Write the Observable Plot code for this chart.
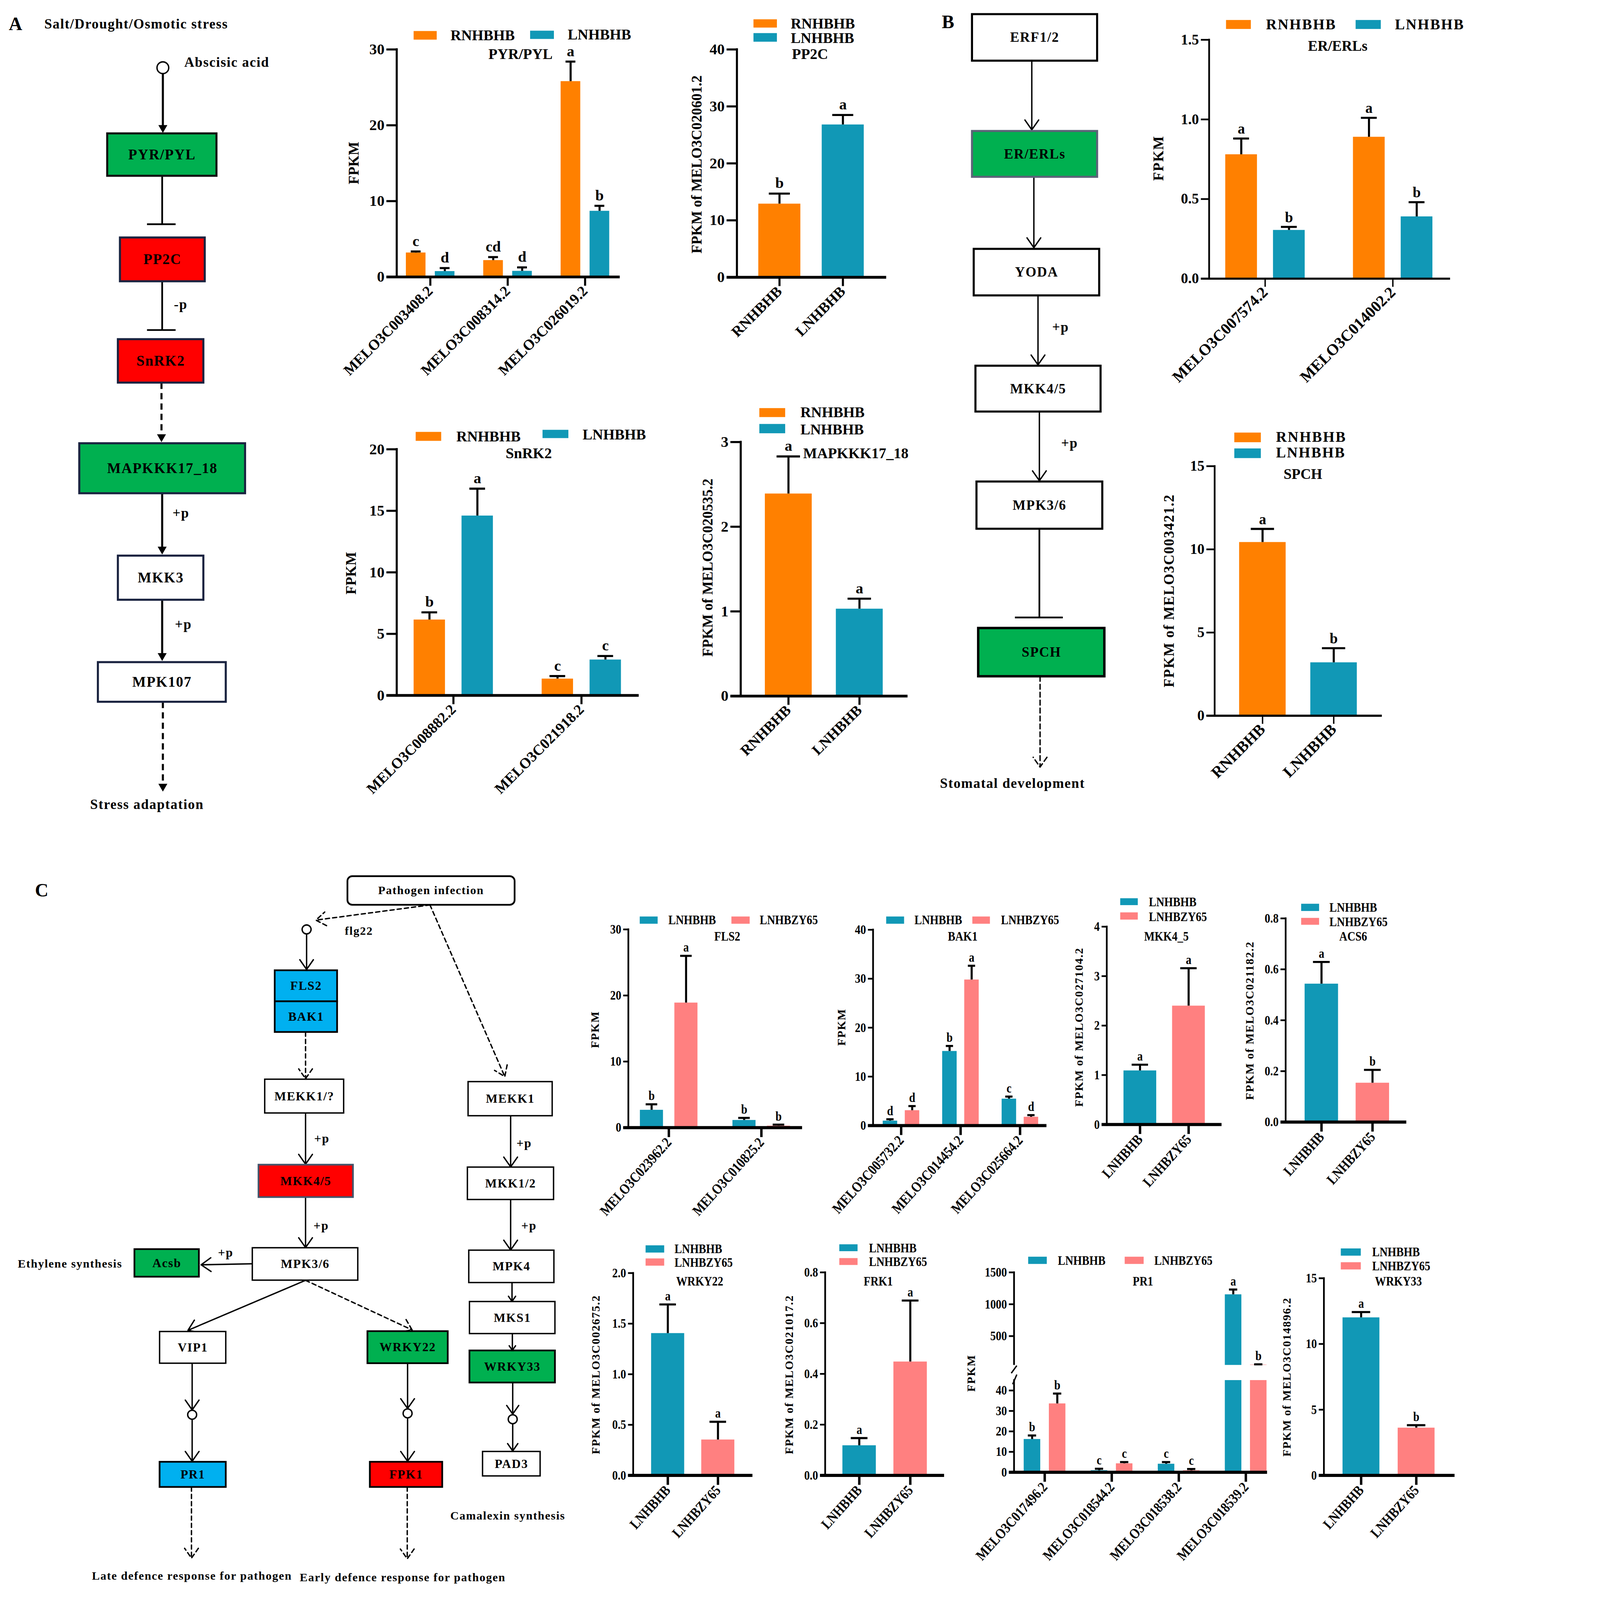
<!DOCTYPE html>
<html><head><meta charset="utf-8">
<script src="https://cdn.jsdelivr.net/npm/d3@7"></script>
<script src="https://cdn.jsdelivr.net/npm/@observablehq/plot@0.6"></script>
<style>
html,body{margin:0;padding:0;background:#fff;overflow:hidden;}
#page{position:absolute;left:0;top:0;width:4266px;height:4642px;overflow:hidden;background:#fff;font-family:'Liberation Serif','Times New Roman',serif;font-weight:bold;color:#000;transform-origin:0 0;}
.abs{position:absolute;white-space:nowrap;line-height:1;}
</style></head>
<body><div id="page"></div>
<script>
// ================= DATA =================
// Panel A
const pyrGenes = ["MELO3C003408.2", "MELO3C008314.2", "MELO3C026019.2"];
const pyrRN = [3.2, 2.2, 25.8];
const pyrRNErr = [0.16, 0.42, 2.6];
const pyrRNSig = ["c", "cd", "a"];
const pyrLN = [0.75, 0.78, 8.7];
const pyrLNErr = [0.42, 0.48, 0.68];
const pyrLNSig = ["d", "d", "b"];

const linesRL = ["RNHBHB", "LNHBHB"];
const pp2cVal = [12.9, 26.8];
const pp2cErr = [1.8, 1.7];
const pp2cSig = ["b", "a"];

const snrkGenes = ["MELO3C008882.2", "MELO3C021918.2"];
const snrkRN = [6.15, 1.35];
const snrkRNErr = [0.6, 0.22];
const snrkRNSig = ["b", "c"];
const snrkLN = [14.6, 2.9];
const snrkLNErr = [2.2, 0.3];
const snrkLNSig = ["a", "c"];

const mapVal = [2.39, 1.03];
const mapErr = [0.44, 0.12];
const mapSig = ["a", "a"];

// Panel B
const erGenes = ["MELO3C007574.2", "MELO3C014002.2"];
const erRN = [0.78, 0.89];
const erRNErr = [0.10, 0.12];
const erRNSig = ["a", "a"];
const erLN = [0.305, 0.39];
const erLNErr = [0.02, 0.09];
const erLNSig = ["b", "b"];

const spchVal = [10.43, 3.2];
const spchErr = [0.8, 0.86];
const spchSig = ["a", "b"];

// Panel C
const linesLZ = ["LNHBHB", "LNHBZY65"];
const fls2Genes = ["MELO3C023962.2", "MELO3C010825.2"];
const fls2LN = [2.67, 1.13];
const fls2LNErr = [0.86, 0.34];
const fls2LNSig = ["b", "b"];
const fls2ZY = [18.9, 0.27];
const fls2ZYErr = [7.1, 0.18];
const fls2ZYSig = ["a", "b"];

const bak1Genes = ["MELO3C005732.2", "MELO3C014454.2", "MELO3C025664.2"];
const bak1LN = [0.97, 15.2, 5.46];
const bak1LNErr = [0.32, 1.06, 0.46];
const bak1LNSig = ["d", "b", "c"];
const bak1ZY = [3.1, 29.8, 1.76];
const bak1ZYErr = [0.88, 2.85, 0.37];
const bak1ZYSig = ["d", "a", "d"];

const mkkVal = [1.09, 2.40];
const mkkErr = [0.12, 0.76];
const mkkSig = ["a", "a"];

const acs6Val = [0.543, 0.154];
const acs6Err = [0.086, 0.051];
const acs6Sig = ["a", "b"];

const wrky22Val = [1.405, 0.353];
const wrky22Err = [0.285, 0.177];
const wrky22Sig = ["a", "a"];

const frk1Val = [0.118, 0.448];
const frk1Err = [0.029, 0.241];
const frk1Sig = ["a", "a"];

const pr1Genes = ["MELO3C017496.2", "MELO3C018544.2", "MELO3C018538.2", "MELO3C018539.2"];
const pr1LN = [16.2, 0.93, 4.1, 1153];
const pr1LNErr = [1.8, 0.8, 0.9, 78];
const pr1LNSig = ["b", "c", "c", "a"];
const pr1ZY = [33.6, 4.3, 0.9, 50];
const pr1ZYErr = [4.9, 0.7, 0.7, 7];
const pr1ZYSig = ["b", "c", "c", "b"];
const pr1Break = 45;

const wrky33Val = [12.01, 3.62];
const wrky33Err = [0.42, 0.2];
const wrky33Sig = ["a", "b"];

// ================= STYLE =================
const ORANGE = "#ff8000", TEAL = "#1198b6", PINK = "#ff8080";
const GREEN = "#00b050", RED = "#ff0000", BLUE = "#00b0f0";
const SERIF = "'Liberation Serif','Times New Roman',serif";
const page = document.getElementById("page");
const NS = "http://www.w3.org/2000/svg";

function fitPage() {
  const vw = document.documentElement.clientWidth || window.innerWidth;
  const vh = document.documentElement.clientHeight || window.innerHeight;
  const s = Math.min(vw / 4266, vh / 4642);
  page.style.transform = `scale(${s})`;
}
fitPage();
window.addEventListener("resize", fitPage);

function addText(text, x, y, o = {}) {
  const d = document.createElement("div");
  d.className = "abs";
  d.textContent = text;
  d.style.fontSize = (o.size || 40) + "px";
  d.style.letterSpacing = (o.spacing || 0) + "px";
  d.style.left = x + "px";
  d.style.top = y + "px";
  if (o.italic) d.style.fontStyle = "italic";
  const tx = o.anchor === "start" ? "0" : o.anchor === "end" ? "-100%" : "-50%";
  d.style.transformOrigin = o.anchor === "start" ? "0 50%" : o.anchor === "end" ? "100% 50%" : "50% 50%";
  d.style.transform = `translate(${tx},-50%)` + (o.rotate ? ` rotate(${o.rotate}deg)` : "") + (o.sx ? ` scaleX(${o.sx})` : "");
  page.appendChild(d);
}
function addSwatch(color, s) {
  const d = document.createElement("div");
  d.className = "abs";
  d.style.background = color;
  d.style.left = s[0] + "px"; d.style.top = s[2] + "px";
  d.style.width = (s[1] - s[0]) + "px"; d.style.height = (s[3] - s[2]) + "px";
  page.appendChild(d);
}
function svgLine(svg, x1, y1, x2, y2, w) {
  const l = document.createElementNS(NS, "line");
  l.setAttribute("x1", x1); l.setAttribute("y1", y1);
  l.setAttribute("x2", x2); l.setAttribute("y2", y2);
  l.setAttribute("stroke", "#000"); l.setAttribute("stroke-width", w);
  svg.appendChild(l);
}
function condense(svg, k) {
  svg.querySelectorAll("text").forEach(t => {
    const x = +t.getAttribute("x") || 0, y = +t.getAttribute("y") || 0;
    const tr = t.getAttribute("transform") || "";
    t.setAttribute("transform", `${tr} translate(${x},${y}) scale(${k},1) translate(${-x},${-y})`);
  });
}

const SA = {tickFont: 44, xFont: 43, sigFont: 44, ytick: 30, xtick: 26, yw: 6, xw: 8, ew: 6, rotate: -45, sigGap: 16,
  legFont: 43, legSp: 0, titleFont: 43, ylabFont: 42, ylabSp: 0, k: 0};
const SB = {tickFont: 42, xFont: 46, sigFont: 42, ytick: 24, xtick: 24, yw: 5, xw: 6, ew: 6, rotate: -45, sigGap: 14,
  legFont: 43, legSp: 3, titleFont: 42, ylabFont: 42, ylabSp: 2, k: 0};
const SC = {tickFont: 38, xFont: 42, sigFont: 38, ytick: 15, xtick: 28, yw: 5, xw: 9, ew: 6, rotate: -48, sigGap: 12,
  legFont: 38, legSp: 0, titleFont: 38, ylabFont: 34, ylabSp: 2, k: 0.85};

function pairSeries(vals, errs, sigs, colors) {
  return vals.map((v, k) => ({color: colors[k], values: [v], errs: [errs[k]], sig: [sigs[k]]}));
}

function chart(c) {
  const st = c.st;
  const ml = 170, mr = 40, mt = 110, mb = 560;
  const ymin = c.ymin ?? 0;
  const L = c.x0 - ml, T = c.yTop - mt;
  const W = c.x1 - c.x0 + ml + mr, H = c.yBot - c.yTop + mt + mb;
  const n = c.cats.length, S = (c.cN - c.c0) / (n - 1);
  const marks = [];
  c.series.forEach((s, k) => {
    const rows = s.values.map((v, i) => ({cat: c.grouped ? c.cats[i] : c.cats[k], value: v, err: s.errs[i], sig: s.sig[i]}));
    const dx = c.grouped ? (k - 0.5) * c.bs : 0;
    const shown = rows.filter(d => d.value > ymin);
    const whole = shown.filter(d => d.value + d.err <= c.ymax);
    const inset = c.bw * 0.25;
    marks.push(Plot.barY(shown, {x: "cat", y1: ymin, y2: d => Math.min(d.value, c.ymax), fill: s.color, dx}));
    marks.push(Plot.ruleX(whole, {x: "cat", y1: "value", y2: d => d.value + d.err, dx, strokeWidth: st.ew, stroke: "#000"}));
    marks.push(Plot.tickY(whole, {x: "cat", y: d => d.value + d.err, dx, insetLeft: inset, insetRight: inset, strokeWidth: st.ew, stroke: "#000"}));
    marks.push(Plot.text(whole, {x: "cat", y: d => d.value + d.err, text: "sig", dx, dy: -st.sigGap, lineAnchor: "bottom", fontSize: st.sigFont, fill: "#000"}));
  });
  if (!c.noX) marks.push(Plot.ruleY([ymin], {strokeWidth: st.xw, stroke: "#000", insetLeft: -st.ytick}));
  marks.push(Plot.axisY({ticks: c.ticks, tickFormat: c.fmt || "d", tickSize: st.ytick, tickPadding: 6, fontSize: st.tickFont, strokeWidth: st.yw, label: null}));
  if (!c.noX) marks.push(Plot.axisX({tickSize: st.xtick, tickPadding: 8, tickRotate: st.rotate, fontSize: st.xFont,
    strokeWidth: st.xw - 2, label: null}));
  const svg = Plot.plot({
    width: W, height: H, marginLeft: ml, marginRight: mr, marginTop: mt, marginBottom: mb,
    x: {type: "band", domain: c.cats, range: [c.c0 - c.bw / 2 - L, c.cN + c.bw / 2 - L],
        paddingInner: 1 - c.bw / S, paddingOuter: 0, align: 0, round: false, axis: null},
    y: {domain: [ymin, c.ymax], range: [c.yBot - T, c.yTop - T], axis: null},
    style: {fontFamily: SERIF, fontWeight: "bold", background: "transparent", overflow: "visible", maxWidth: "none", color: "#000"},
    marks
  });
  svg.style.position = "absolute";
  svg.style.left = L + "px";
  svg.style.top = T + "px";
  if (st.k) condense(svg, st.k);
  svgLine(svg, ml, c.yBot - T + (c.noX ? 0 : st.xw / 2), ml, c.yTop - T - st.yw / 2, st.yw);
  if (c.breakBelow) svgLine(svg, ml - 8, c.yBot - T + 24, ml + 8, c.yBot - T + 2, 4);
  if (c.breakAbove) svgLine(svg, ml - 4, c.yTop - T + 12, ml + 8, c.yTop - T - 16, 4);
  page.appendChild(svg);
  if (c.legend) c.legend.forEach(g => {
    addSwatch(g.color, g.s);
    addText(g.name, g.t[0], g.t[1], {size: st.legFont, anchor: "start", spacing: st.legSp, sx: st.k});
  });
  if (c.title) addText(c.title[0], c.title[1], c.title[2], {size: st.titleFont, anchor: c.title[3] || "middle", sx: st.k});
  if (c.ylab) addText(c.ylab[0], c.ylab[1], c.ylab[2], {size: st.ylabFont, rotate: -90, spacing: st.ylabSp});
}

// ================= DIAGRAMS =================
const diagBoxes = [
  {t: "PYR/PYL", b: [311, 628, 387, 510], f: GREEN, s: "#111", w: 6, fs: 42},
  {t: "PP2C", b: [348, 594, 689, 816], f: RED, s: "#1a2340", w: 6, fs: 42},
  {t: "SnRK2", b: [342, 590, 984, 1110], f: RED, s: "#1a2340", w: 6, fs: 42},
  {t: "MAPKKK17_18", b: [230, 711, 1286, 1431], f: GREEN, s: "#1a2340", w: 6, fs: 42},
  {t: "MKK3", b: [342, 590, 1612, 1740], f: "#fff", s: "#1a2340", w: 6, fs: 42},
  {t: "MPK107", b: [284, 655, 1921, 2036], f: "#fff", s: "#1a2340", w: 6, fs: 42},
  {t: "ERF1/2", b: [2820, 3183, 41, 176], f: "#fff", s: "#000", w: 6, fs: 40},
  {t: "ER/ERLs", b: [2820, 3183, 380, 513], f: GREEN, s: "#5b6478", w: 6, fs: 40},
  {t: "YODA", b: [2825, 3189, 722, 857], f: "#fff", s: "#000", w: 6, fs: 40},
  {t: "MKK4/5", b: [2830, 3193, 1061, 1194], f: "#fff", s: "#000", w: 6, fs: 40},
  {t: "MPK3/6", b: [2833, 3198, 1397, 1534], f: "#fff", s: "#000", w: 6, fs: 40},
  {t: "SPCH", b: [2838, 3204, 1822, 1962], f: GREEN, s: "#000", w: 7, fs: 40},
  {t: "FLS2", b: [797, 978, 2815, 2905], f: BLUE, s: "#000", w: 5, fs: 36},
  {t: "BAK1", b: [797, 978, 2905, 2994], f: BLUE, s: "#000", w: 5, fs: 36},
  {t: "MEKK1/?", b: [768, 997, 3131, 3229], f: "#fff", s: "#000", w: 4, fs: 36},
  {t: "MKK4/5", b: [750, 1024, 3379, 3473], f: RED, s: "#44546a", w: 5, fs: 36},
  {t: "MPK3/6", b: [732, 1038, 3620, 3714], f: "#fff", s: "#000", w: 4, fs: 36},
  {t: "Acsb", b: [390, 577, 3624, 3704], f: GREEN, s: "#000", w: 5, fs: 36},
  {t: "VIP1", b: [463, 655, 3863, 3955], f: "#fff", s: "#000", w: 4, fs: 36},
  {t: "WRKY22", b: [1066, 1299, 3862, 3955], f: GREEN, s: "#000", w: 5, fs: 36},
  {t: "PR1", b: [463, 655, 4241, 4314], f: BLUE, s: "#000", w: 5, fs: 36},
  {t: "FPK1", b: [1073, 1283, 4241, 4314], f: RED, s: "#000", w: 5, fs: 36},
  {t: "MEKK1", b: [1358, 1602, 3138, 3237], f: "#fff", s: "#000", w: 4, fs: 36},
  {t: "MKK1/2", b: [1356, 1606, 3386, 3480], f: "#fff", s: "#000", w: 4, fs: 36},
  {t: "MPK4", b: [1360, 1607, 3627, 3721], f: "#fff", s: "#000", w: 4, fs: 36},
  {t: "MKS1", b: [1362, 1610, 3776, 3869], f: "#fff", s: "#000", w: 4, fs: 36},
  {t: "WRKY33", b: [1362, 1610, 3918, 4011], f: GREEN, s: "#000", w: 5, fs: 36},
  {t: "PAD3", b: [1400, 1567, 4211, 4282], f: "#fff", s: "#000", w: 4, fs: 36}
];
const diagRound = [{t: "Pathogen infection", b: [1008, 1493, 2542, 2625]}];
// panel A: shafts (x, yStart, yTip) with filled heads
const arrowsA = [[472, 214, 385], [470, 1431, 1608], [470, 1740, 1917]];
const dashedA = [[468, 1110, 1282], [472, 2036, 2296]];
const arrowsB = [[2993, 176, 2993, 376], [2999, 513, 2999, 718], [3011, 857, 3011, 1058], [3015, 1194, 3015, 1394]];
const dashedB = [[3017, 1962, 3017, 2225]];
const arrowsC = [[889, 2709, 889, 2812], [886, 3229, 886, 3377], [886, 3473, 886, 3619], [732, 3666, 583, 3669],
  [886, 3714, 545, 3859], [557, 3955, 557, 4090], [557, 4118, 557, 4239], [1182, 3955, 1182, 4086], [1182, 4114, 1182, 4239],
  [1481, 3237, 1481, 3385], [1481, 3480, 1481, 3626], [1485, 3721, 1485, 3775], [1486, 3869, 1486, 3917],
  [1487, 4011, 1487, 4102], [1487, 4131, 1487, 4209]];
const dashedC = [[1247, 2625, 916, 2669], [1247, 2625, 1464, 3123], [886, 2994, 886, 3129], [886, 3714, 1195, 3858],
  [555, 4314, 555, 4520], [1181, 4314, 1181, 4522]];
const inhibitLinks = [[470, 510, 470, 650], [426, 650, 509, 650], [470, 816, 470, 957], [426, 957, 509, 957],
  [3015, 1534, 3015, 1791], [2944, 1791, 3083, 1791]];
const circlesBig = [[472, 196]];
const circlesSmall = [[889, 2696], [557, 4104], [1182, 4100], [1487, 4117]];
const textsStart = [
  ["A", 25, 69, 54], ["Salt/Drought/Osmotic stress", 128, 69, 40], ["Abscisic acid", 534, 181, 40],
  ["-p", 504, 883, 40], ["+p", 500, 1488, 40], ["+p", 507, 1811, 40],
  ["B", 2732, 64, 54], ["+p", 3052, 949, 40], ["+p", 3078, 1286, 40],
  ["C", 101, 2583, 54], ["flg22", 1000, 2701, 34], ["+p", 911, 3303, 36], ["+p", 909, 3556, 36], ["+p", 632, 3634, 36],
  ["+p", 1498, 3317, 36], ["+p", 1512, 3556, 36], ["Ethylene synthesis", 51, 3666, 34], ["Camalexin synthesis", 1306, 4397, 34],
  ["Late defence response for pathogen", 266, 4572, 34], ["Early defence response for pathogen", 869, 4576, 34]
];
const textsMiddle = [["Stress adaptation", 426, 2334, 40], ["Stomatal development", 2937, 2273, 40], ["Pathogen infection", 1250, 2583, 34]];

const seg = {x1: d => d[0], y1: d => d[1], x2: d => d[2], y2: d => d[3], stroke: "#000"};
const shaft = {x1: d => d[0], y1: d => d[1], x2: d => d[0], y2: d => d[2] - 12, stroke: "#000", strokeWidth: 6};
const head = {x: d => d[0], y: d => d[2] - 15, symbol: "triangle", rotate: 180, r: 9.7, fill: "#000", stroke: "none"};
const diag = Plot.plot({
  width: 4266, height: 4642, margin: 0,
  x: {type: "identity", axis: null}, y: {type: "identity", axis: null},
  style: {fontFamily: SERIF, fontWeight: "bold", background: "transparent", overflow: "visible", maxWidth: "none", letterSpacing: "2px", color: "#000"},
  marks: [
    Plot.link(arrowsA, shaft),
    Plot.link(dashedA, {...shaft, strokeDasharray: "18,12"}),
    Plot.dot([...arrowsA, ...dashedA], head),
    Plot.arrow(arrowsB, {...seg, strokeWidth: 4, headLength: 13, headAngle: 70}),
    Plot.arrow(dashedB, {...seg, strokeWidth: 4, headLength: 13, headAngle: 70, strokeDasharray: "14,9"}),
    Plot.arrow(arrowsC, {...seg, strokeWidth: 4, headLength: 13, headAngle: 70}),
    Plot.arrow(dashedC, {...seg, strokeWidth: 4, headLength: 13, headAngle: 70, strokeDasharray: "12,9"}),
    Plot.link(inhibitLinks, {...seg, strokeWidth: 5}),
    Plot.dot(circlesBig, {x: d => d[0], y: d => d[1], r: 17, fill: "#fff", stroke: "#000", strokeWidth: 4}),
    Plot.dot(circlesSmall, {x: d => d[0], y: d => d[1], r: 13, fill: "#fff", stroke: "#000", strokeWidth: 4}),
    Plot.rect(diagBoxes, {x1: d => d.b[0], x2: d => d.b[1], y1: d => d.b[2], y2: d => d.b[3], fill: d => d.f, stroke: d => d.s, strokeWidth: d => d.w}),
    Plot.rect(diagRound, {x1: d => d.b[0], x2: d => d.b[1], y1: d => d.b[2], y2: d => d.b[3], fill: "#fff", stroke: "#000", strokeWidth: 5, rx: 14}),
    Plot.text(diagBoxes, {x: d => (d.b[0] + d.b[1]) / 2, y: d => (d.b[2] + d.b[3]) / 2, text: "t", fontSize: d => d.fs, fill: "#000"}),
    Plot.text(textsStart, {x: d => d[1], y: d => d[2], text: d => d[0], fontSize: d => d[3], textAnchor: "start", fill: "#000"}),
    Plot.text(textsMiddle, {x: d => d[1], y: d => d[2], text: d => d[0], fontSize: d => d[3], textAnchor: "middle", fill: "#000"})
  ]
});
diag.style.position = "absolute"; diag.style.left = "0px"; diag.style.top = "0px";
page.appendChild(diag);

// ================= CHARTS =================
const legRL = (a, b) => [{name: "RNHBHB", color: ORANGE, s: a[0], t: a[1]}, {name: "LNHBHB", color: TEAL, s: b[0], t: b[1]}];
const legLZ = (a, b) => [{name: "LNHBHB", color: TEAL, s: a[0], t: a[1]}, {name: "LNHBZY65", color: PINK, s: b[0], t: b[1]}];

const charts = [
  {st: SA, x0: 1151, x1: 1798, yTop: 143, yBot: 803, ymax: 30, ticks: [0, 10, 20, 30], cats: pyrGenes, grouped: true,
   c0: 1248, cN: 1697, bw: 57, bs: 84,
   series: [{color: ORANGE, values: pyrRN, errs: pyrRNErr, sig: pyrRNSig}, {color: TEAL, values: pyrLN, errs: pyrLNErr, sig: pyrLNSig}],
   legend: legRL([[1200, 1267, 90, 115], [1307, 102]], [[1538, 1607, 89, 113], [1647, 100]]),
   title: ["PYR/PYL", 1510, 157], ylab: ["FPKM", 1026, 473]},
  {st: SA, x0: 2138, x1: 2571, yTop: 143, yBot: 804, ymax: 40, ticks: [0, 10, 20, 30, 40], cats: linesRL,
   c0: 2261, cN: 2445, bw: 122, series: pairSeries(pp2cVal, pp2cErr, pp2cSig, [ORANGE, TEAL]),
   legend: legRL([[2186, 2254, 56, 80], [2294, 68]], [[2186, 2254, 96, 121], [2294, 110]]),
   title: ["PP2C", 2350, 157], ylab: ["FPKM of MELO3C020601.2", 2021, 477]},
  {st: SA, x0: 1151, x1: 1853, yTop: 1303, yBot: 2017, ymax: 20, ticks: [0, 5, 10, 15, 20], cats: snrkGenes, grouped: true,
   c0: 1315, cN: 1686.5, bw: 91, bs: 139,
   series: [{color: ORANGE, values: snrkRN, errs: snrkRNErr, sig: snrkRNSig}, {color: TEAL, values: snrkLN, errs: snrkLNErr, sig: snrkLNSig}],
   legend: legRL([[1206, 1280, 1253, 1279], [1324, 1266]], [[1574, 1649, 1247, 1271], [1690, 1261]]),
   title: ["SnRK2", 1534, 1315], ylab: ["FPKM", 1018, 1663]},
  {st: SA, x0: 2149, x1: 2633, yTop: 1282, yBot: 2019, ymax: 3, ticks: [0, 1, 2, 3], cats: linesRL,
   c0: 2287, cN: 2493, bw: 136, series: pairSeries(mapVal, mapErr, mapSig, [ORANGE, TEAL]),
   legend: legRL([[2203, 2278, 1184, 1210], [2322, 1196]], [[2203, 2278, 1230, 1257], [2322, 1246]]),
   title: ["MAPKKK17_18", 2330, 1315, "start"], ylab: ["FPKM of MELO3C020535.2", 2053, 1647]},
  {st: SB, x0: 3508, x1: 4207, yTop: 115, yBot: 808, ymax: 1.5, ticks: [0, 0.5, 1, 1.5], fmt: ".1f", cats: erGenes, grouped: true,
   c0: 3670, cN: 4040.5, bw: 92, bs: 138.5,
   series: [{color: ORANGE, values: erRN, errs: erRNErr, sig: erRNSig}, {color: TEAL, values: erLN, errs: erLNErr, sig: erLNSig}],
   legend: legRL([[3557, 3629, 58, 84], [3673, 70]], [[3933, 4006, 58, 84], [4047, 70]]),
   title: ["ER/ERLs", 3881, 133], ylab: ["FPKM", 3361, 459]},
  {st: SB, x0: 3524, x1: 4009, yTop: 1352, yBot: 2076, ymax: 15, ticks: [0, 5, 10, 15], cats: linesRL,
   c0: 3662.5, cN: 3869, bw: 135, series: pairSeries(spchVal, spchErr, spchSig, [ORANGE, TEAL]),
   legend: legRL([[3581, 3658, 1255, 1283], [3702, 1267]], [[3581, 3658, 1301, 1329], [3702, 1313]]),
   title: ["SPCH", 3780, 1375], ylab: ["FPKM of MELO3C003421.2", 3392, 1714]},
  {st: SC, x0: 1823, x1: 2327, yTop: 2696, yBot: 3271, ymax: 30, ticks: [0, 10, 20, 30], cats: fls2Genes, grouped: true,
   c0: 1940, cN: 2208.5, bw: 67, bs: 100,
   series: [{color: TEAL, values: fls2LN, errs: fls2LNErr, sig: fls2LNSig}, {color: PINK, values: fls2ZY, errs: fls2ZYErr, sig: fls2ZYSig}],
   legend: legLZ([[1856, 1908, 2659, 2680], [1939, 2668]], [[2122, 2175, 2659, 2680], [2204, 2668]]),
   title: ["FLS2", 2110, 2716], ylab: ["FPKM", 1726, 2987]},
  {st: SC, x0: 2533, x1: 3036, yTop: 2697, yBot: 3265, ymax: 40, ticks: [0, 10, 20, 30, 40], cats: bak1Genes, grouped: true,
   c0: 2614, cN: 2959, bw: 42, bs: 64,
   series: [{color: TEAL, values: bak1LN, errs: bak1LNErr, sig: bak1LNSig}, {color: PINK, values: bak1ZY, errs: bak1ZYErr, sig: bak1ZYSig}],
   legend: legLZ([[2571, 2623, 2659, 2680], [2653, 2668]], [[2821, 2872, 2659, 2680], [2904, 2668]]),
   title: ["BAK1", 2793, 2716], ylab: ["FPKM", 2442, 2980]},
  {st: SC, x0: 3211, x1: 3544, yTop: 2688, yBot: 3262, ymax: 4, ticks: [0, 1, 2, 3, 4], cats: linesLZ,
   c0: 3307, cN: 3448, bw: 95, series: pairSeries(mkkVal, mkkErr, mkkSig, [TEAL, PINK]),
   legend: legLZ([[3250, 3301, 2606, 2626], [3333, 2616]], [[3250, 3301, 2647, 2668], [3333, 2659]]),
   title: ["MKK4_5", 3384, 2716], ylab: ["FPKM of MELO3C027104.2", 3131, 2980]},
  {st: SC, x0: 3730, x1: 4080, yTop: 2664, yBot: 3255, ymax: 0.8, ticks: [0, 0.2, 0.4, 0.6, 0.8], fmt: ".1f", cats: linesLZ,
   c0: 3833.5, cN: 3981.5, bw: 97, series: pairSeries(acs6Val, acs6Err, acs6Sig, [TEAL, PINK]),
   legend: legLZ([[3775, 3827, 2622, 2643], [3857, 2632]], [[3775, 3827, 2663, 2683], [3857, 2674]]),
   title: ["ACS6", 3926, 2716], ylab: ["FPKM of MELO3C021182.2", 3626, 2961]},
  {st: SC, x0: 1837, x1: 2183, yTop: 3693, yBot: 4280, ymax: 2, ticks: [0, 0.5, 1, 1.5, 2], fmt: ".1f", cats: linesLZ,
   c0: 1937, cN: 2082.5, bw: 96, series: pairSeries(wrky22Val, wrky22Err, wrky22Sig, [TEAL, PINK]),
   legend: legLZ([[1873, 1927, 3613, 3634], [1957, 3623]], [[1873, 1927, 3651, 3672], [1957, 3662]]),
   title: ["WRKY22", 2030, 3717], ylab: ["FPKM of MELO3C002675.2", 1729, 3988]},
  {st: SC, x0: 2394, x1: 2739, yTop: 3691, yBot: 4280, ymax: 0.8, ticks: [0, 0.2, 0.4, 0.6, 0.8], fmt: ".1f", cats: linesLZ,
   c0: 2492.5, cN: 2640.5, bw: 97, series: pairSeries(frk1Val, frk1Err, frk1Sig, [TEAL, PINK]),
   legend: legLZ([[2435, 2488, 3610, 3630], [2521, 3620]], [[2435, 2488, 3650, 3670], [2521, 3660]]),
   title: ["FRK1", 2548, 3717], ylab: ["FPKM of MELO3C021017.2", 2290, 3988]},
  {st: SC, x0: 2942, x1: 3676, yTop: 3691, yBot: 3960, ymin: pr1Break, ymax: 1500, ticks: [500, 1000, 1500], cats: pr1Genes, grouped: true,
   c0: 3030.5, cN: 3614, bw: 48, bs: 73, noX: true, breakBelow: true,
   series: [{color: TEAL, values: pr1LN, errs: pr1LNErr, sig: pr1LNSig}, {color: PINK, values: pr1ZY, errs: pr1ZYErr, sig: pr1ZYSig}],
   legend: legLZ([[2983, 3037, 3646, 3667], [3069, 3657]], [[3263, 3318, 3646, 3667], [3349, 3657]]),
   title: ["PR1", 3316, 3717], ylab: ["FPKM", 2818, 3984]},
  {st: SC, x0: 2942, x1: 3676, yTop: 4004, yBot: 4271, ymin: 0, ymax: pr1Break, ticks: [0, 10, 20, 30, 40], cats: pr1Genes, grouped: true,
   c0: 3030.5, cN: 3614, bw: 48, bs: 73, breakAbove: true,
   series: [{color: TEAL, values: pr1LN, errs: pr1LNErr, sig: pr1LNSig}, {color: PINK, values: pr1ZY, errs: pr1ZYErr, sig: pr1ZYSig}]},
  {st: SC, x0: 3841, x1: 4220, yTop: 3708, yBot: 4280, ymax: 15, ticks: [0, 5, 10, 15], cats: linesLZ,
   c0: 3948.5, cN: 4108.5, bw: 107, series: pairSeries(wrky33Val, wrky33Err, wrky33Sig, [TEAL, PINK]),
   legend: legLZ([[3890, 3948, 3622, 3643], [3981, 3632]], [[3890, 3948, 3662, 3683], [3981, 3672]]),
   title: ["WRKY33", 4057, 3717], ylab: ["FPKM of MELO3C014896.2", 3733, 3995]}
];
charts.forEach(chart);
</script>
</body></html>
